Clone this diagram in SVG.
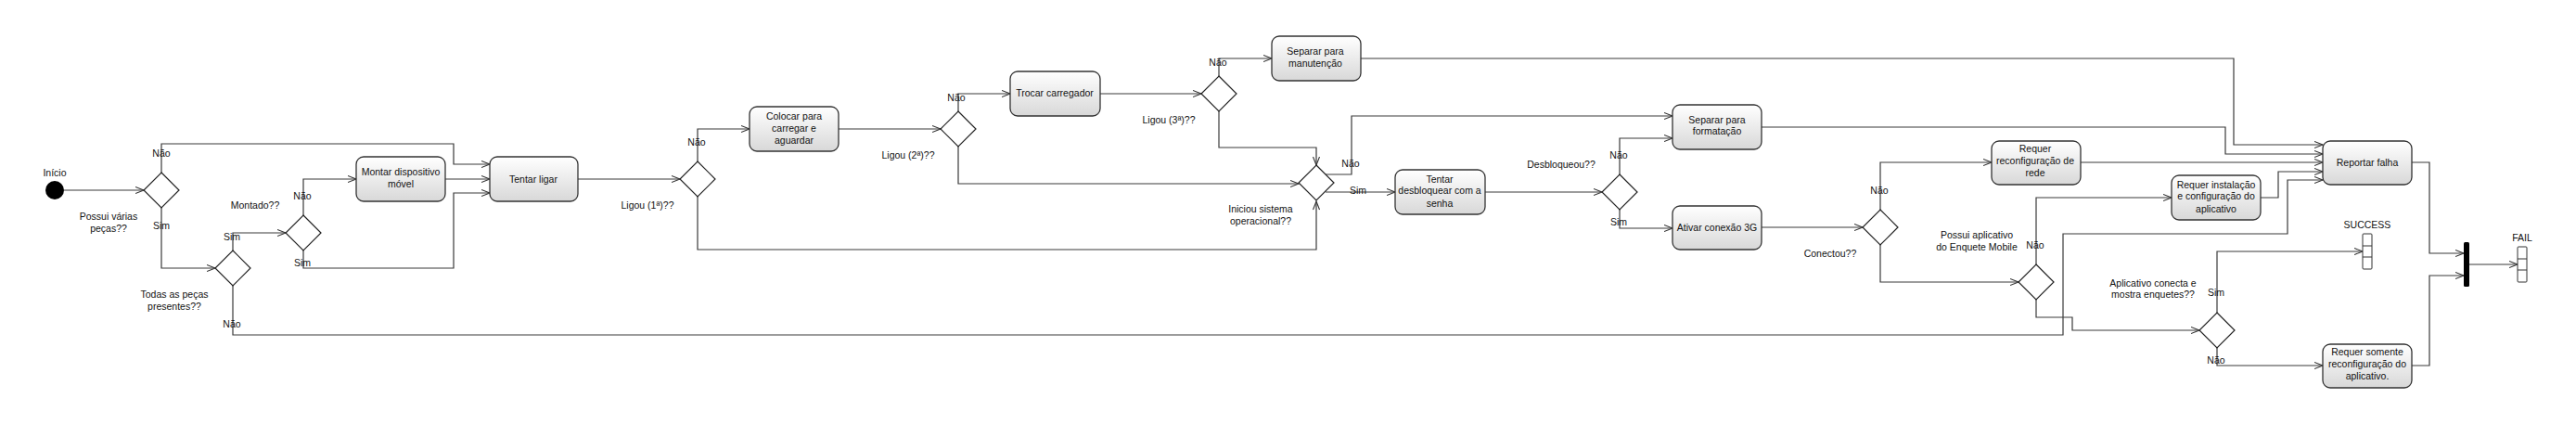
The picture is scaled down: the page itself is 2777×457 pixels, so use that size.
<svg xmlns="http://www.w3.org/2000/svg" width="2777" height="457" viewBox="0 0 2777 457">
<style>
.bg{fill:#ffffff}
.box{fill:url(#g);stroke:#333;stroke-width:1.3}
.dia{fill:#fff;stroke:#222;stroke-width:1.2}
.c{fill:none;stroke:#3a3a3a;stroke-width:1.2;marker-end:url(#a)}
.t{font-family:"Liberation Sans",Arial,sans-serif;font-size:10.5px;fill:#111;text-anchor:middle}
.fin{fill:#fff;stroke:#333;stroke-width:1}
</style>
<defs>
<linearGradient id="g" x1="0" y1="0" x2="0" y2="1">
<stop offset="0" stop-color="#ffffff"/>
<stop offset="1" stop-color="#d8d8d8"/>
</linearGradient>
<marker id="a" markerWidth="11" markerHeight="9" refX="9.5" refY="4" orient="auto" markerUnits="userSpaceOnUse">
<path d="M0.5,0.5 L9.5,4 L0.5,7.5" fill="none" stroke="#333" stroke-width="1.1"/>
</marker>
</defs>
<rect class="bg" x="0" y="0" width="2777" height="457"/>

<g id="connectors">
<polyline class="c" points="69,205 155,205"/>
<polyline class="c" points="174,186 174,155 489,155 489,177 528,177"/>
<polyline class="c" points="174,224 174,289 232,289"/>
<polyline class="c" points="251,270 251,251 308,251"/>
<polyline class="c" points="327,232 327,193 384,193"/>
<polyline class="c" points="327,270 327,289 489,289 489,208 528,208"/>
<polyline class="c" points="480,193 528,193"/>
<polyline class="c" points="251,308 251,361 2224,361 2224,252 2466,252 2466,194 2504,194"/>
<polyline class="c" points="623,193 733,193"/>
<polyline class="c" points="752,174 752,139 808,139"/>
<polyline class="c" points="752,212 752,269 1419,269 1419,217"/>
<polyline class="c" points="904,139 1014,139"/>
<polyline class="c" points="1033,120 1033,101 1089,101"/>
<polyline class="c" points="1033,158 1033,198 1400,198"/>
<polyline class="c" points="1186,101 1295,101"/>
<polyline class="c" points="1314,82 1314,63 1371,63"/>
<polyline class="c" points="1314,120 1314,159 1419,159 1419,178"/>
<polyline class="c" points="1467,63 2408,63 2408,156 2504,156"/>
<polyline class="c" points="1429,188 1457,188 1457,125 1803,125"/>
<polyline class="c" points="1429,207 1504,207"/>
<polyline class="c" points="1601,207 1727,207"/>
<polyline class="c" points="1746,188 1746,149 1803,149"/>
<polyline class="c" points="1746,226 1746,246 1803,246"/>
<polyline class="c" points="1899,137 2399,137 2399,166 2504,166"/>
<polyline class="c" points="1899,245 2008,245"/>
<polyline class="c" points="2027,226 2027,175 2147,175"/>
<polyline class="c" points="2027,264 2027,304 2176,304"/>
<polyline class="c" points="2243,175 2504,175"/>
<polyline class="c" points="2195,285 2195,213 2341,213"/>
<polyline class="c" points="2195,323 2195,342 2234,342 2234,356 2371,356"/>
<polyline class="c" points="2437,213 2456,213 2456,185 2504,185"/>
<polyline class="c" points="2390,337 2390,271 2547,271"/>
<polyline class="c" points="2390,375 2390,394 2504,394"/>
<polyline class="c" points="2600,175 2619,175 2619,273 2656,273"/>
<polyline class="c" points="2600,394 2619,394 2619,297 2656,297"/>
<polyline class="c" points="2662,285 2714,285"/>
</g>

<g id="inicio">
<circle cx="59" cy="205" r="10" fill="#000"/>
<text class="t" x="59" y="190">Início</text>
</g>

<g id="d_varias">
<polygon class="dia" points="174,186 193,205 174,224 155,205"/>
<text class="t" x="174" y="169">Não</text>
<text class="t" x="174" y="247">Sim</text>
<text class="t" x="117" y="237">Possui várias</text>
<text class="t" x="117" y="250">peças??</text>
</g>

<g id="d_todas">
<polygon class="dia" points="251,270 270,289 251,308 232,289"/>
<text class="t" x="250" y="259">Sim</text>
<text class="t" x="250" y="353">Não</text>
<text class="t" x="188" y="321">Todas as peças</text>
<text class="t" x="188" y="334">presentes??</text>
</g>

<g id="d_montado">
<polygon class="dia" points="327,232 346,251 327,270 308,251"/>
<text class="t" x="275" y="225">Montado??</text>
<text class="t" x="326" y="215">Não</text>
<text class="t" x="326" y="287">Sim</text>
</g>

<g id="montar">
<rect class="box" x="384" y="169" width="96" height="48" rx="8"/>
<text class="t" x="432" y="189">Montar dispositivo</text>
<text class="t" x="432" y="202">móvel</text>
</g>

<g id="tentar_ligar">
<rect class="box" x="528" y="169" width="95" height="48" rx="8"/>
<text class="t" x="575" y="197">Tentar ligar</text>
</g>

<g id="d_ligou1">
<polygon class="dia" points="752,174 771,193 752,212 733,193"/>
<text class="t" x="698" y="225">Ligou (1ª)??</text>
<text class="t" x="751" y="157">Não</text>
</g>

<g id="colocar">
<rect class="box" x="808" y="115" width="96" height="48" rx="8"/>
<text class="t" x="856" y="129">Colocar para</text>
<text class="t" x="856" y="142">carregar e</text>
<text class="t" x="856" y="155">aguardar</text>
</g>

<g id="d_ligou2">
<polygon class="dia" points="1033,120 1052,139 1033,158 1014,139"/>
<text class="t" x="979" y="171">Ligou (2ª)??</text>
<text class="t" x="1031" y="109">Não</text>
</g>

<g id="trocar">
<rect class="box" x="1089" y="77" width="97" height="48" rx="8"/>
<text class="t" x="1137" y="104">Trocar carregador</text>
</g>

<g id="d_ligou3">
<polygon class="dia" points="1314,82 1333,101 1314,120 1295,101"/>
<text class="t" x="1260" y="133">Ligou (3ª)??</text>
<text class="t" x="1313" y="71">Não</text>
</g>

<g id="manutencao">
<rect class="box" x="1371" y="39" width="96" height="48" rx="8"/>
<text class="t" x="1418" y="59">Separar para</text>
<text class="t" x="1418" y="72">manutenção</text>
</g>

<g id="d_iniciou">
<polygon class="dia" points="1419,178 1438,197 1419,216 1400,197"/>
<text class="t" x="1359" y="229">Iniciou sistema</text>
<text class="t" x="1359" y="242">operacional??</text>
<text class="t" x="1456" y="180">Não</text>
<text class="t" x="1464" y="209">Sim</text>
</g>

<g id="desbloquear">
<rect class="box" x="1504" y="183" width="97" height="48" rx="8"/>
<text class="t" x="1552" y="197">Tentar</text>
<text class="t" x="1552" y="209">desbloquear com a</text>
<text class="t" x="1552" y="223">senha</text>
</g>

<g id="d_desbloqueou">
<polygon class="dia" points="1746,188 1765,207 1746,226 1727,207"/>
<text class="t" x="1683" y="181">Desbloqueou??</text>
<text class="t" x="1745" y="171">Não</text>
<text class="t" x="1745" y="243">Sim</text>
</g>

<g id="formatacao">
<rect class="box" x="1803" y="113" width="96" height="48" rx="8"/>
<text class="t" x="1851" y="133">Separar para</text>
<text class="t" x="1851" y="145">formatação</text>
</g>

<g id="ativar3g">
<rect class="box" x="1803" y="222" width="96" height="47" rx="8"/>
<text class="t" x="1851" y="249">Ativar conexão 3G</text>
</g>

<g id="d_conectou">
<polygon class="dia" points="2027,226 2046,245 2027,264 2008,245"/>
<text class="t" x="1973" y="277">Conectou??</text>
<text class="t" x="2026" y="209">Não</text>
</g>

<g id="reconf_rede">
<rect class="box" x="2147" y="152" width="96" height="47" rx="8"/>
<text class="t" x="2194" y="164">Requer</text>
<text class="t" x="2194" y="177">reconfiguração de</text>
<text class="t" x="2194" y="190">rede</text>
</g>

<g id="d_possui_app">
<polygon class="dia" points="2195,285 2214,304 2195,323 2176,304"/>
<text class="t" x="2131" y="257">Possui aplicativo</text>
<text class="t" x="2131" y="270">do Enquete Mobile</text>
<text class="t" x="2194" y="268">Não</text>
</g>

<g id="instalacao">
<rect class="box" x="2341" y="189" width="96" height="48" rx="8"/>
<text class="t" x="2389" y="203">Requer instalação</text>
<text class="t" x="2389" y="215">e configuração do</text>
<text class="t" x="2389" y="229">aplicativo</text>
</g>

<g id="d_app_conecta">
<polygon class="dia" points="2390,337 2409,356 2390,375 2371,356"/>
<text class="t" x="2321" y="309">Aplicativo conecta e</text>
<text class="t" x="2321" y="321">mostra enquetes??</text>
<text class="t" x="2389" y="319">Sim</text>
<text class="t" x="2389" y="392">Não</text>
</g>

<g id="reportar">
<rect class="box" x="2504" y="152" width="96" height="47" rx="8"/>
<text class="t" x="2552" y="179">Reportar falha</text>
</g>

<g id="somente">
<rect class="box" x="2504" y="371" width="96" height="47" rx="8"/>
<text class="t" x="2552" y="383">Requer somente</text>
<text class="t" x="2552" y="396">reconfiguração do</text>
<text class="t" x="2552" y="409">aplicativo.</text>
</g>

<g id="success">
<rect class="fin" x="2547" y="252" width="10" height="38" rx="1"/>
<line x1="2547" y1="265" x2="2557" y2="265" stroke="#333" stroke-width="1"/>
<line x1="2547" y1="277" x2="2557" y2="277" stroke="#333" stroke-width="1"/>
<text class="t" x="2552" y="246">SUCCESS</text>
</g>

<g id="join">
<rect x="2656" y="261" width="6" height="48" rx="1.5" fill="#000"/>
</g>

<g id="fail">
<rect class="fin" x="2714" y="266" width="10" height="38" rx="1"/>
<line x1="2714" y1="279" x2="2724" y2="279" stroke="#333" stroke-width="1"/>
<line x1="2714" y1="291" x2="2724" y2="291" stroke="#333" stroke-width="1"/>
<text class="t" x="2719" y="260">FAIL</text>
</g>
</svg>
